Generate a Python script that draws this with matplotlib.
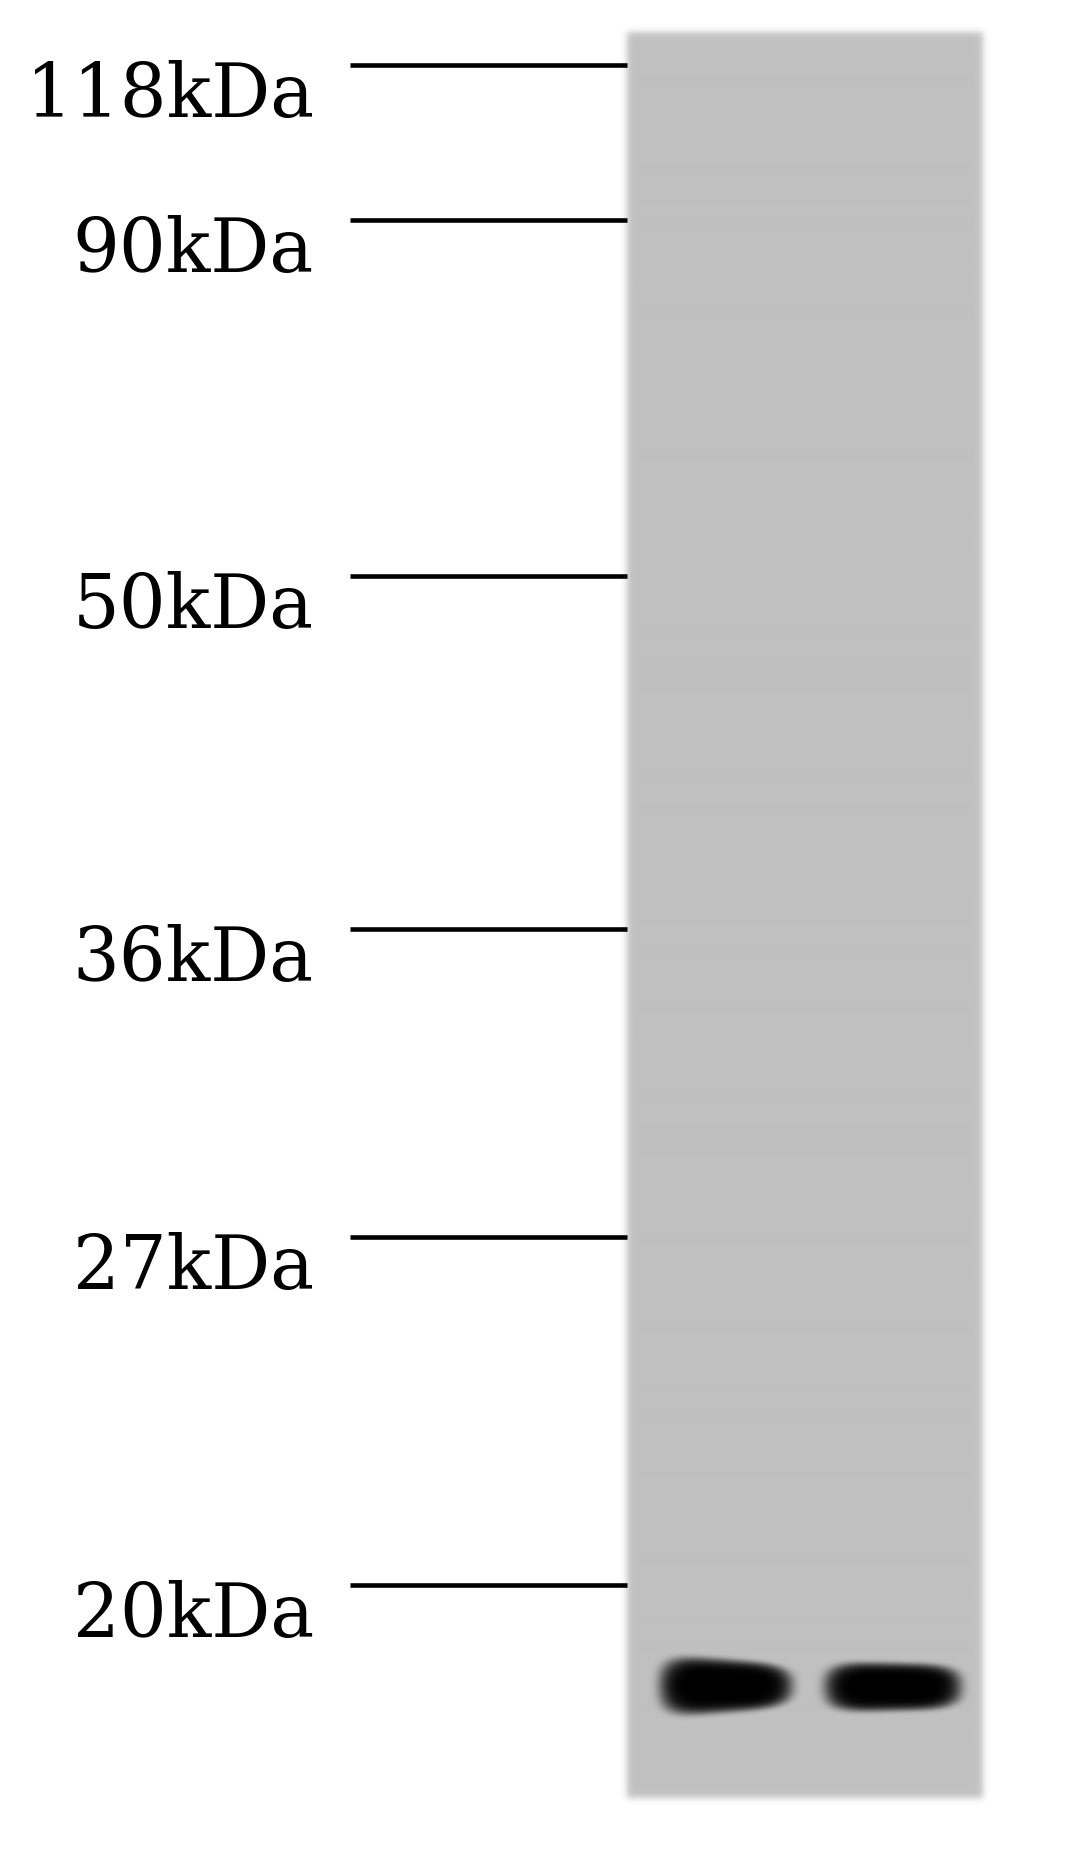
import numpy as np
import matplotlib
matplotlib.use("Agg")
import matplotlib.pyplot as plt

# marker ladder (label, y position in pixels of the picture)
marker_labels = ["118kDa", "90kDa", "50kDa", "36kDa", "27kDa", "20kDa"]
marker_y = [65, 220, 576, 929, 1237, 1585]

# lanes and their bands
lane_x = [726, 893]
band_y = [1686, 1687]
band_halfwidth = [66, 68]
band_height_left = [31, 25]   # half height at left end of band
band_height_right = [21, 22]  # half height at right end of band

W, H = 1080, 1860
gel_left, gel_right, gel_top, gel_bottom = 627, 983, 33, 1798
gel_grey = 192

fig = plt.figure(figsize=(W / 100, H / 100), dpi=100)
ax = fig.add_axes([0, 0, 1, 1])
ax.set_xlim(0, W)
ax.set_ylim(H, 0)
ax.axis("off")

xx, yy = np.meshgrid(np.arange(W) + 0.5, np.arange(H) + 0.5)

def edge(v):
    return 1.0 / (1.0 + np.exp(-v / 2.0))

mask = (edge(xx - gel_left) * edge(gel_right - xx)
        * edge(yy - gel_top) * edge(gel_bottom - yy))
img = 255 - (255 - gel_grey) * mask

dark = np.zeros_like(img)
for i in range(len(lane_x)):
    dx = (xx - lane_x[i]) / band_halfwidth[i]
    t = np.clip((dx + 1) / 2, 0, 1)
    hh = band_height_left[i] + (band_height_right[i] - band_height_left[i]) * t
    dy = (yy - band_y[i]) / hh
    r = dx ** 4 + dy ** 2 * (1 + dy ** 2) / 2
    d = np.exp(-r ** 2.5)
    dark = np.maximum(dark, d)
img = img * (1 - dark)

ax.imshow(np.clip(img, 0, 255), cmap="gray", vmin=0, vmax=255,
          extent=(0, W, H, 0), interpolation="bilinear", zorder=0)

for lab, y in zip(marker_labels, marker_y):
    ax.plot([350, gel_left], [y, y], color="black", lw=3.3,
            solid_capstyle="butt", zorder=2)
    ax.text(314, y + 52, lab, ha="right", va="baseline",
            family="DejaVu Serif", fontsize=53,
            color="black", zorder=3)

fig.savefig("out.png", dpi=100)
